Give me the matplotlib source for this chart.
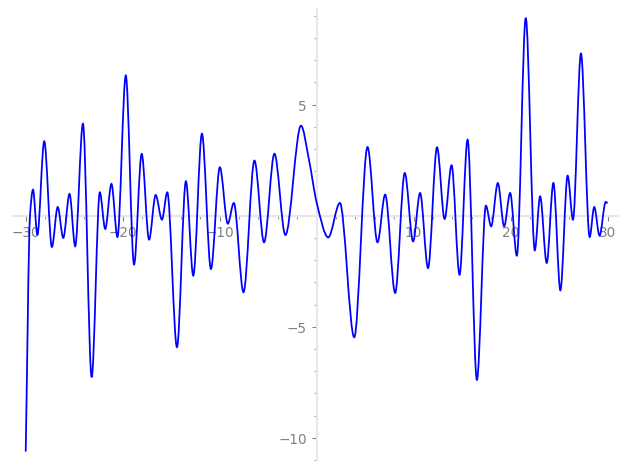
import numpy as np
import matplotlib
matplotlib.use("Agg")
import matplotlib.pyplot as plt
from matplotlib.path import Path
from matplotlib.patches import PathPatch
from matplotlib.ticker import MultipleLocator

# curve: turning points plus a few points on steep stretches
xs = [-30.0, -29.56, -29.25, -28.8, -28.09, -27.3, -26.7, -26.13, -25.48, -24.9,
      -24.1, -23.2, -22.36, -21.8, -21.16, -20.54, -19.68, -18.83, -18.04, -17.28,
      -16.6, -15.95, -15.4, -14.4, -13.48, -12.72, -11.83, -10.9, -9.98, -9.16,
      -8.54, -7.54, -6.41, -5.42, -4.35, -3.22, -1.61, -0.79, 0.0, 1.2,
      2.4, 3.88, 5.25, 6.28, 7.07, 8.1, 9.09, 9.95, 10.67, 11.49,
      12.42, 13.2, 13.92, 14.74, 15.57, 16.53, 17.46, 18.0, 18.69, 19.34,
      19.96, 20.65, 21.57, 22.5, 23.05, 23.73, 24.42, 25.14, 25.89, 26.44,
      27.26, 28.16, 28.63, 29.18, 29.82, 30.0]
ys = [-10.62, 0.0, 1.17, -0.86, 3.35, -1.41, 0.39, -1.0, 0.98, -1.38,
      4.14, -7.27, 1.05, -0.6, 1.43, -0.96, 6.31, -2.2, 2.78, -1.08,
      0.93, -0.18, 1.05, -5.92, 1.55, -2.7, 3.69, -2.4, 2.18, -0.36,
      0.57, -3.45, 2.48, -1.2, 2.79, -0.87, 4.05, 2.52, 0.6, -0.98,
      0.57, -5.48, 3.09, -1.2, 0.95, -3.48, 1.92, -1.16, 1.02, -2.36,
      3.08, -0.15, 2.27, -2.66, 3.42, -7.39, 0.45, -0.48, 1.47, -0.48,
      1.02, -1.8, 8.9, -1.56, 0.87, -2.13, 1.47, -3.36, 1.8, -0.18,
      7.3, -0.96, 0.39, -0.9, 0.62, 0.55]

x_major = [-30, -20, -10, 10, 20, 30]
y_major = [-10, -5, 5]


def smooth_path(x, y):
    # monotone cubic tangents, turned into bezier segments for a smooth line
    x = np.asarray(x, float)
    y = np.asarray(y, float)
    h = np.diff(x)
    d = np.diff(y) / h
    m = np.zeros_like(x)
    for i in range(1, len(x) - 1):
        if d[i - 1] * d[i] > 0:
            w1 = 2 * h[i] + h[i - 1]
            w2 = h[i] + 2 * h[i - 1]
            m[i] = (w1 + w2) / (w1 / d[i - 1] + w2 / d[i])
    m[0] = d[0]
    m[-1] = d[-1]
    verts = [(x[0], y[0])]
    codes = [Path.MOVETO]
    for i in range(len(x) - 1):
        verts += [(x[i] + h[i] / 3, y[i] + m[i] * h[i] / 3),
                  (x[i + 1] - h[i] / 3, y[i + 1] - m[i + 1] * h[i] / 3),
                  (x[i + 1], y[i + 1])]
        codes += [Path.CURVE4] * 3
    return Path(verts, codes)


fig = plt.figure(figsize=(6.4, 4.8), dpi=98)
ax = fig.add_axes([0.0203, 0.0213, 0.9653, 0.9585])

ax.add_patch(PathPatch(smooth_path(xs, ys), facecolor="none",
                       edgecolor="#0000ff", lw=1.3, zorder=3))

ax.set_xlim(-31.34, 31.1)
ax.set_ylim(-11.0, 9.3)

for side in ["top", "right"]:
    ax.spines[side].set_visible(False)
for side in ["left", "bottom"]:
    ax.spines[side].set_position("zero")
    ax.spines[side].set_color("#e8e8e8")
    ax.spines[side].set_linewidth(1.6)

ax.set_xticks(x_major)
ax.set_yticks(y_major)
ax.set_xticklabels([f"{v:d}".replace("-", "\u2212") for v in x_major])
ax.set_yticklabels([f"{v:d}".replace("-", "\u2212") for v in y_major])
ax.xaxis.set_minor_locator(MultipleLocator(2))
ax.yaxis.set_minor_locator(MultipleLocator(1))
ax.tick_params(which="both", colors="#808080", labelsize=10)
ax.tick_params(which="major", length=3.5)
ax.tick_params(which="minor", length=2.5)

fig.savefig("out.png", dpi=98)
